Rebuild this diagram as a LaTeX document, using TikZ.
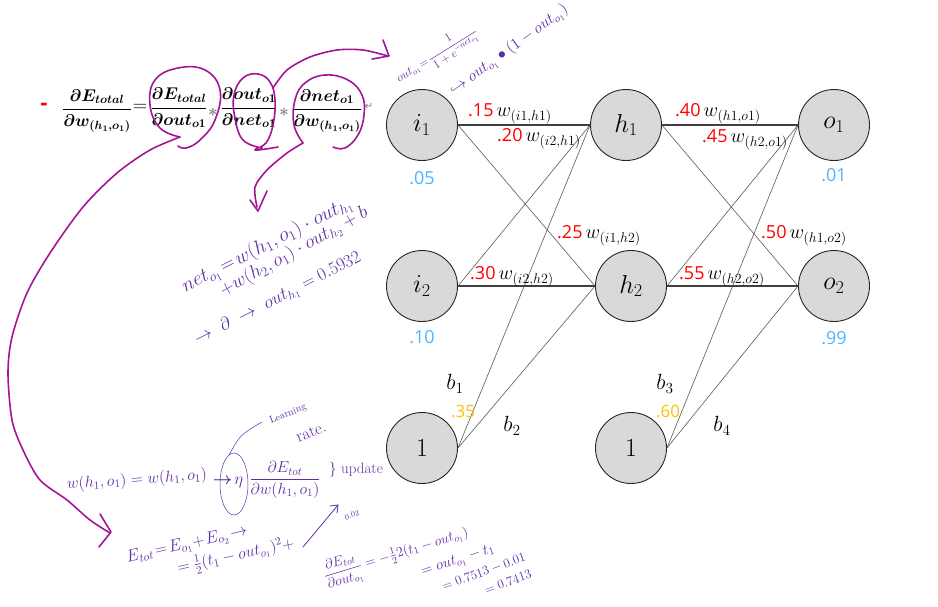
\RequirePackage{fix-cm}
\documentclass[tikz,border=0pt]{standalone}
\usepackage{amsmath,amssymb}
\usepackage{fontspec}
\newfontfamily\uifont{Open Sans}
\newfontfamily\symfont{DejaVu Sans}
\usepackage{xcolor}
\usepackage{tikz}
\usetikzlibrary{arrows.meta,calc}

\definecolor{wred}{RGB}{255,0,0}
\definecolor{actblue}{RGB}{77,180,255}
\definecolor{biasgold}{RGB}{255,192,0}
\definecolor{inkmag}{RGB}{165,20,150}
\definecolor{inkpur}{RGB}{95,45,165}

\newcommand{\wt}[2]{{\uifont\color{wred}#1}\,{\fontsize{20}{22}\selectfont$w_{(#2)}$}}

\begin{document}
\begin{tikzpicture}[
    x=1pt,
    y=-1pt,
    >=Stealth,
    neuron/.style={circle, draw=black!85, line width=0.9pt, fill=black!15,
        minimum size=71pt, inner sep=0pt, font=\fontsize{26}{28}\selectfont},
    syn/.style={draw=black!65, line width=0.6pt},
    synmain/.style={draw=black!75, line width=1.1pt},
    wlab/.style={anchor=west, inner sep=0pt, font=\fontsize{18}{20}\selectfont},
    act/.style={text=actblue, font=\uifont\fontsize{18}{20}\selectfont},
    bval/.style={text=biasgold, font=\uifont\fontsize{17}{19}\selectfont},
    blab/.style={font=\fontsize{22}{24}\selectfont},
    eqn/.style={inner sep=0pt, font=\fontsize{17}{19}\selectfont\boldmath},
    mag/.style={draw=inkmag, line width=1.6pt, line cap=round, line join=round},
    ink/.style={draw=inkpur, line width=0.8pt, line cap=round},
    inktext/.style={text=inkpur, inner sep=0pt, font=\fontsize{14}{16}\selectfont}
]
\useasboundingbox (0,0) rectangle (938,606);

% network
\node[neuron] (i1) at (422,125) {$i_1$};
\node[neuron] (i2) at (422,286) {$i_2$};
\node[neuron] (b1) at (422,448) {$1$};
\node[neuron] (h1) at (626,125) {$h_1$};
\node[neuron] (h2) at (631,286) {$h_2$};
\node[neuron] (b2) at (631,448) {$1$};
\node[neuron] (o1) at (834,125) {$o_1$};
\node[neuron] (o2) at (834,286) {$o_2$};

\foreach \a in {i1,i2,b1}{
  \foreach \b in {h1,h2}{
    \draw[syn] (\a.east) -- (\b.west);
  }
}
\foreach \a in {h1,h2,b2}{
  \foreach \b in {o1,o2}{
    \draw[syn] (\a.east) -- (\b.west);
  }
}
\foreach \a/\b in {i1/h1,i2/h2,h1/o1,h2/o2}
  \draw[synmain] (\a.east) -- (\b.west);

% weights
\node[wlab] (w15) at (468,114) {\wt{.15}{i1,h1}};
\node[wlab] (w20) at (497,139) {\wt{.20}{i2,h1}};
\node[wlab] (w25) at (557,236) {\wt{.25}{i1,h2}};
\node[wlab] (w30) at (470,277) {\wt{.30}{i2,h2}};
\node[wlab] (w40) at (675,114) {\wt{.40}{h1,o1}};
\node[wlab] (w45) at (702,140) {\wt{.45}{h2,o1}};
\node[wlab] (w50) at (761,236) {\wt{.50}{h1,o2}};
\node[wlab] (w55) at (679,277) {\wt{.55}{h2,o2}};

% values
\node[act] (vi1) at (422,178) {.05};
\node[act] (vi2) at (422,337) {.10};
\node[act] (vo1) at (834,175) {.01};
\node[act] (vo2) at (834,338) {.99};

\node[blab] (lb1) at (455,384) {$b_1$};
\node[bval] (vb1) at (463,411) {.35};
\node[blab] (lb2) at (512,426) {$b_2$};
\node[blab] (lb3) at (665,384) {$b_3$};
\node[bval] (vb2) at (668,411) {.60};
\node[blab] (lb4) at (722,426) {$b_4$};

% chain rule
\node[text=wred, font=\uifont\bfseries\fontsize{22}{24}\selectfont] (minus) at (44,107) {-};
\node[eqn] (f1) at (97,111) {$\dfrac{\partial E_{total}}{\partial w_{(h_1,o_1)}}$};
\node[eqn, font=\fontsize{20}{22}\selectfont] (eq) at (140,108) {$=$};
\node[eqn] (f2) at (179,108) {$\dfrac{\partial E_{total}}{\partial out_{o1}}$};
\node[eqn, text=gray] (s1) at (213,112) {$*$};
\node[eqn] (f3) at (249,108) {$\dfrac{\partial out_{o1}}{\partial net_{o1}}$};
\node[eqn, text=gray] (s2) at (284,112) {$*$};
\node[eqn] (f4) at (327,111) {$\dfrac{\partial net_{o1}}{\partial w_{(h_1,o_1)}}$};
\node[text=gray, font=\symfont\fontsize{10}{11}\selectfont] (ret) at (369,106) {↵};

% magenta marks
\draw[mag] plot[smooth, tension=0.7] coordinates {(180,137) (160,128) (150,105) (155,80) (178,68) (205,70) (220,90) (215,120) (200,140) (186,148) (178,146)};
\draw[mag] plot[smooth, tension=0.7] coordinates {(262,148) (243,140) (235,118) (234,95) (243,78) (258,74) (270,82) (275,100) (273,125) (266,143) (255,150) (278,147)};
\draw[mag] plot[smooth, tension=0.7] coordinates {(303,143) (294,125) (295,100) (305,83) (325,75) (348,80) (362,95) (364,115) (358,135) (345,148) (333,147)};
\draw[mag] plot[smooth] coordinates {(273,88) (287,70) (310,57) (337,50) (363,50) (388,56)};
\draw[mag] (383,40) -- (389,56) -- (372,59);
\draw[mag] plot[smooth] coordinates {(303,143) (287,153) (267,170) (255,187) (257,207)};
\draw[mag] (250,200) -- (258,211) -- (267,191);
\draw[mag] plot[smooth] coordinates {(180,137) (150,150) (117,173) (83,207) (50,253) (27,293) (12,337) (8,373) (12,420) (23,450) (40,480) (67,500) (90,520) (110,533)};
\draw[mag] (100,514) -- (111,532) -- (99,547);

% purple notes
\node[inktext, rotate=32, font=\fontsize{12}{14}\selectfont] (sig) at (437,55) {$out_{o_1}\!=\!\dfrac{1}{1+e^{-net_{o_1}}}$};
\node[inktext, rotate=36, font=\fontsize{16}{18}\selectfont] (dsig) at (509,50) {$\hookrightarrow out_{o_1}\bullet(1-out_{o_1})$};
\node[inktext, rotate=27, font=\fontsize{20}{22}\selectfont] (net1) at (267,245) {$net_{o_1}\!=\!w(h_1,o_1)\cdot out_{h_1}$};
\node[inktext, rotate=29, font=\fontsize{19}{21}\selectfont] (net2) at (294,252) {$+w(h_2,o_1)\cdot out_{h_2}+b$};
\node[inktext, rotate=27, font=\fontsize{18}{20}\selectfont] (oh1) at (278,299) {$\rightarrow\ \partial\ \rightarrow\ out_{h_1}=0.5932$};

\node[inktext, rotate=4, font=\fontsize{16}{18}\selectfont] (upd) at (137,480) {$w(h_1,o_1)=w(h_1,o_1)$};
\node[inktext, font=\fontsize{17}{19}\selectfont] (eta) at (228,482) {$\boldsymbol{\rightarrow}\!\eta$};
\node[inktext, font=\fontsize{16}{18}\selectfont] (grad) at (285,480) {$\dfrac{\partial E_{tot}}{\partial w(h_1,o_1)}$};
\node[inktext, font=\fontsize{15}{17}\selectfont] (updt) at (356,470) {\} update};
\draw[ink, line width=0.5pt] (234,484) ellipse [x radius=14, y radius=31];
\draw[ink, line width=0.5pt] (229,455) .. controls (240,435) .. (262,422);
\node[inktext, rotate=22, font=\fontsize{10}{11}\selectfont] (lr1) at (288,414) {Learning};
\node[inktext, rotate=22, font=\fontsize{17}{19}\selectfont] (lr2) at (311,432) {rate.};

\node[inktext, rotate=13, font=\fontsize{17}{19}\selectfont] (et1) at (187,545) {$E_{tot}\!=\!E_{o_1}\!+\!E_{o_2}\!\rightarrow$};
\node[inktext, rotate=12, font=\fontsize{16}{18}\selectfont] (et2) at (236,556) {$=\frac{1}{2}(t_1-out_{o_1})^2+$};
\draw[ink] (303,547) -- (338,505);
\draw[ink] (330,506) -- (338,505) -- (337,513);
\node[inktext, rotate=20, font=\fontsize{8}{9}\selectfont] (et3) at (352,515) {$0.02$};

\node[inktext, rotate=17] (de1) at (396,555) {$\dfrac{\partial E_{tot}}{\partial out_{o_1}}=-\frac{1}{2}2(t_1-out_{o_1})$};
\node[inktext, rotate=18, font=\fontsize{15}{17}\selectfont] (de2) at (458,561) {$=out_{o_1}-t_1$};
\node[inktext, rotate=20, font=\fontsize{13}{15}\selectfont] (de3) at (484,572) {$=0.7513-0.01$};
\node[inktext, rotate=20, font=\fontsize{13}{15}\selectfont] (de4) at (508,582) {$=0.7413$};
\end{tikzpicture}
\end{document}
